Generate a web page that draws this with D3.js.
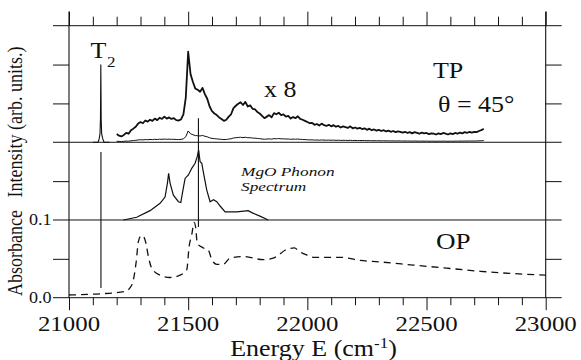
<!DOCTYPE html>
<html><head><meta charset="utf-8">
<script src="https://cdn.jsdelivr.net/npm/d3@7"></script>
</head>
<body style="margin:0;padding:0;background:#fff">
<svg id="chart" width="581" height="360" style="display:block;background:#fff"></svg>
<script>
// ---------- data ----------
const xTickValues = [21000, 21500, 22000, 22500, 23000];
const xTickLabels = ["21000", "21500", "22000", "22500", "23000"];
const absTickValues = [0.0, 0.1];
const absTickLabels = ["0.0", "0.1"];

// TP emission, shown magnified x 8 (sampled every 10 cm-1 from 21200 to 22740)
const tpStart = 21200, tpStep = 10;
const tpScaledValues = [
 0.21,0.17,0.15,0.19,0.24,0.22,0.31,0.35,0.40,0.48,
 0.52,0.49,0.56,0.53,0.58,0.55,0.61,0.57,0.63,0.60,
 0.66,0.61,0.64,0.60,0.62,0.57,0.56,0.59,0.72,1.15,
 2.33,1.75,1.55,1.38,1.35,1.30,1.40,1.24,1.12,0.92,
 0.80,0.74,0.70,0.64,0.60,0.55,0.58,0.66,0.72,0.88,
 0.94,0.99,1.03,0.96,1.04,0.92,0.95,0.86,0.85,0.78,
 0.74,0.68,0.62,0.66,0.70,0.64,0.75,0.72,0.76,0.70,
 0.72,0.66,0.68,0.61,0.65,0.62,0.67,0.60,0.58,0.55,
 0.52,0.49,0.50,0.45,0.47,0.43,0.48,0.44,0.42,0.45,
 0.41,0.44,0.40,0.42,0.38,0.41,0.39,0.37,0.41,0.36,
 0.38,0.35,0.37,0.34,0.36,0.32,0.35,0.31,0.33,0.30,
 0.32,0.29,0.31,0.28,0.30,0.27,0.29,0.26,0.28,0.27,
 0.25,0.27,0.24,0.26,0.23,0.26,0.24,0.22,0.25,0.23,
 0.24,0.21,0.23,0.22,0.20,0.23,0.21,0.24,0.22,0.20,
 0.23,0.21,0.24,0.22,0.25,0.23,0.26,0.24,0.27,0.25,
 0.27,0.26,0.29,0.31,0.35
];
const magnification = 8;

// T2 zero-phonon line
const t2Energy = [21100, 21122, 21127, 21130, 21132, 21133.5, 21135, 21137, 21141, 21147, 21170];
const t2Value  = [0, 0, 0.10, 0.22, 0.6, 2.0, 0.6, 0.22, 0.10, 0, 0];

// MgO phonon spectrum
const phononEnergy = [21228,21284,21340,21382,21403,21413,21418,21424,21438,21459,21469,21477,21487,21501,21515,21529,21538,21544,21550,21557,21567,21578,21592,21606,21620,21634,21655,21704,21752,21767,21801,21836];
const phononValue  = [0,0.07,0.24,0.43,0.59,0.95,1.2,0.95,0.64,0.47,0.45,0.73,1.07,1.16,1.33,1.46,1.63,1.80,1.50,1.46,1.12,0.77,0.47,0.52,0.47,0.36,0.21,0.21,0.24,0.19,0.10,0];

// OP absorbance
const absEnergy = [21000,21130,21235,21263,21281,21291,21300,21308,21323,21333,21347,21382,21424,21466,21494,21504,21515,21525,21532,21538,21564,21585,21599,21620,21647,21676,21731,21815,21857,21920,21945,21969,21997,22025,22137,22221,22305,22444,22585,22725,22864,23000];
const absValue  = [0.0035,0.005,0.008,0.016,0.044,0.072,0.079,0.080,0.070,0.053,0.038,0.029,0.026,0.029,0.036,0.066,0.081,0.097,0.089,0.070,0.064,0.061,0.049,0.043,0.043,0.051,0.053,0.049,0.051,0.063,0.064,0.059,0.055,0.052,0.052,0.048,0.046,0.042,0.038,0.034,0.031,0.029];

// vertical marker lines (energy, span in frame units)
const markerEnergy = [21134, 21543];
const markerSpan = [[0.25, 3.75], [1.82, 4.62]];

// ---------- layout ----------
const svg = d3.select("#chart");
const L = 69, R = 545.7, T = 25.7, B = 297.7;
const ink = "#111";
const stretch = 1.13;
const FONT = "'Liberation Serif'";

const x = d3.scaleLinear().domain([21000, 23000]).range([L, R]);
const yFrame = d3.scaleLinear().domain([0, 7]).range([B, T]);
const yAbs = d3.scaleLinear().domain([0, 0.1]).range([yFrame(0), yFrame(2)]);
const yPh  = d3.scaleLinear().domain([0, 2]).range([yFrame(2), yFrame(4)]);
const yTP  = d3.scaleLinear().domain([0, 3]).range([yFrame(4), yFrame(7)]);

// ---------- axes ----------
const minorTicks = d3.range(21000, 23001, 100).filter(v => v % 500 !== 0);
function axisGroup(axis, tx, ty) {
  const g = svg.append("g").attr("transform", `translate(${tx},${ty})`).call(axis);
  g.select(".domain").remove();
  g.selectAll("line").attr("stroke", ink).attr("stroke-width", 1);
  g.selectAll("text").remove();
  return g;
}
axisGroup(d3.axisBottom(x).tickValues(minorTicks).tickSize(7.5), 0, B);
axisGroup(d3.axisBottom(x).tickValues(xTickValues).tickSize(12.5), 0, B);
axisGroup(d3.axisTop(x).tickValues(minorTicks).tickSize(9), 0, T);
axisGroup(d3.axisTop(x).tickValues(xTickValues).tickSize(14), 0, T);
axisGroup(d3.axisLeft(yFrame).tickValues([1, 3, 5, 6]).tickSize(16), L, 0);
axisGroup(d3.axisRight(yFrame).tickValues([1, 3, 5, 6]).tickSize(16), R, 0);

// full-width panel lines
[0, 2, 4, 7].forEach(u => {
  svg.append("line").attr("x1", L - 16).attr("x2", R + 16)
    .attr("y1", yFrame(u)).attr("y2", yFrame(u))
    .attr("stroke", ink).attr("stroke-width", 1);
});
// vertical frame lines
[L, R].forEach(xx => {
  svg.append("line").attr("x1", xx).attr("x2", xx).attr("y1", 11.5).attr("y2", B)
    .attr("stroke", ink).attr("stroke-width", 1.1);
});

// ---------- text helper ----------
function stext(px, py, str, size, anchor, extra, sx) {
  const t = svg.append("text")
    .attr("transform", `translate(${px},${py}) scale(${sx || stretch},1)` + (extra || ""))
    .style("font-family", FONT)
    .style("font-size", size + "px")
    .attr("text-anchor", anchor || "start")
    .attr("fill", ink);
  if (str !== null) t.text(str);
  return t;
}

xTickValues.forEach((v, i) => stext(x(v), 331, xTickLabels[i], 22, "middle"));
absTickValues.forEach((v, i) => stext(51.5, yAbs(v) + 5.5, absTickLabels[i], 16, "end"));

const xt = stext(313.5, 356, null, 23, "middle");
xt.append("tspan").text("Energy E (cm");
xt.append("tspan").style("font-size", "15px").attr("dy", -8).text("-1");
xt.append("tspan").attr("dy", 8).text(")");

stext(22, 122, "Intensity (arb. units.)", 18, "middle", " rotate(-90)");
stext(22, 253, "Absorbance", 18, "middle", " rotate(-90)");

stext(90.5, 57.5, "T", 23, "start");
stext(107, 66.5, "2", 15, "start");
stext(264, 97, "x 8", 23, "start");
stext(433, 78, "TP", 23, "start");
stext(438, 112, "\u03B8 = 45\u00B0", 23, "start");
stext(436, 249, "OP", 24, "start");
stext(241, 176, "MgO Phonon", 13, "start", "", 1.33).style("font-style", "italic");
stext(241, 190.5, "Spectrum", 13, "start", "", 1.33).style("font-style", "italic");

// ---------- traces ----------
const tpData = tpScaledValues.map((v, i) => ({e: tpStart + i * tpStep, v}));
const lineTP = d3.line().x(d => x(d.e)).y(d => yTP(d.v));

svg.append("path").datum(tpData.map(d => ({e: d.e, v: d.v / magnification})))
  .attr("d", lineTP).attr("fill", "none").attr("stroke", ink).attr("stroke-width", 1);
svg.append("path").datum(tpData)
  .attr("d", lineTP).attr("fill", "none").attr("stroke", ink)
  .attr("stroke-width", 1.8).attr("stroke-linejoin", "round");

svg.append("path").datum(t2Energy.map((e, i) => ({e, v: t2Value[i]})))
  .attr("d", lineTP).attr("fill", "none").attr("stroke", ink).attr("stroke-width", 1.1);

svg.append("path").datum(phononEnergy.map((e, i) => ({e, v: phononValue[i]})))
  .attr("d", d3.line().x(d => x(d.e)).y(d => yPh(d.v)))
  .attr("fill", "none").attr("stroke", ink).attr("stroke-width", 1.2);

svg.append("path").datum(absEnergy.map((e, i) => ({e, v: absValue[i]})))
  .attr("d", d3.line().curve(d3.curveMonotoneX).x(d => x(d.e)).y(d => yAbs(d.v)))
  .attr("fill", "none").attr("stroke", ink).attr("stroke-width", 1.3)
  .attr("stroke-dasharray", "7,5");

markerEnergy.forEach((e, i) => {
  svg.append("line").attr("x1", x(e)).attr("x2", x(e))
    .attr("y1", yFrame(markerSpan[i][0])).attr("y2", yFrame(markerSpan[i][1]))
    .attr("stroke", ink).attr("stroke-width", 1.1);
});
</script></body></html>
